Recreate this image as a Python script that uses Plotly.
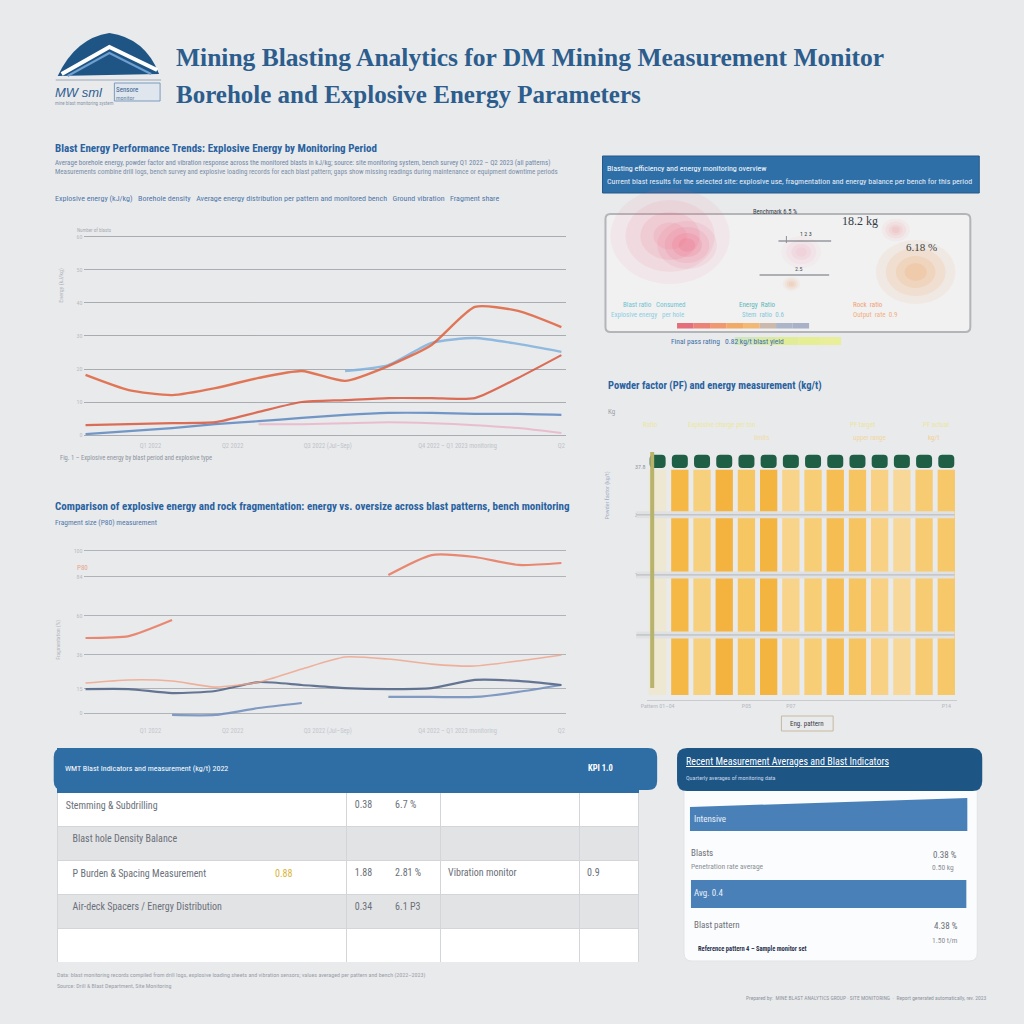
import plotly.graph_objects as go

W = H = 1024
def X(p): return p / W
def Y(p): return 1 - p / H

NARROW = "Liberation Sans Narrow, Arial Narrow, Roboto Condensed, Liberation Sans, sans-serif"
SANS = "Liberation Sans, Arial, sans-serif"
SERIF = "Liberation Serif, DejaVu Serif, serif"
BG = "#e9eaec"

# ---------------- data ----------------
periods = ["Jan", "Feb", "Mar", "Apr", "May", "Jun", "Jul", "Aug", "Sep", "Oct", "Nov", "Dec"]
period_ticks = ["Q1 2022", "Q2 2022", "Q3 2022 (Jul–Sep)", "Q4 2022 – Q1 2023 monitoring", "Q2"]
period_tick_pos = [1.5, 3.4, 5.6, 8.6, 11.0]

energy_anfo = [18.2, 13.6, 12.1, 14.2, 17.3, 19.4, 16.4, 20.9, 27.3, 38.8, 37.6, 32.7]
energy_emulsion = [3.0, 3.3, 3.6, 3.9, 7.0, 10.0, 10.6, 11.2, 11.2, 11.2, 17.3, 24.2]
energy_booster = [0.3, 1.2, 2.1, 3.3, 4.2, 5.2, 6.1, 6.7, 6.7, 6.4, 6.4, 6.1]
energy_heavy = [None, None, None, None, None, None, 19.4, 21.2, 27.9, 29.4, 27.6, 25.2]
energy_other = [None, None, None, None, 3.3, 3.3, 3.6, 3.9, 3.6, 3.0, 2.1, 0.6]
energy_ticks = [0, 10, 20, 30, 40, 50, 60]

frag_oversize = [46.3, 47.5, 57.4, None, None, None, None, 85.2, 97.5, 96.3, 91.4, 92.6]
frag_p80 = [18.5, 20.4, 19.8, 16.0, 19.1, 27.2, 34.6, 33.3, 30.2, 29.0, 32.1, 35.8]
frag_energy = [14.8, 14.8, 12.3, 13.6, 19.1, 17.3, 15.4, 14.8, 15.4, 20.4, 19.8, 17.3]
frag_fines = [None, None, -1.2, -1.2, 3.1, 6.2, None, 9.9, 9.9, 9.9, 13.0, 17.3]
frag_ticks = [0, 15, 36, 60, 84, 100]

pf_patterns = ["P01", "P02", "P03", "P04", "P05", "P06", "P07",
               "P08", "P09", "P10", "P11", "P12", "P13", "P14"]
pf_body = [37.5, 37.5, 37.5, 37.5, 37.5, 37.5, 37.5, 37.5, 37.5, 37.5, 37.5, 37.5, 37.5, 37.5]
pf_cap_base = [37.8, 37.8, 37.8, 37.8, 37.8, 37.8, 37.8, 37.8, 37.8, 37.8, 37.8, 37.8, 37.8, 37.8]
pf_cap = [2.2, 2.2, 2.2, 2.2, 2.2, 2.2, 2.2, 2.2, 2.2, 2.2, 2.2, 2.2, 2.2, 2.2]
pf_colors = ["#eee8d3", "#f5b845", "#f6d07c", "#f4b33f", "#f6c663", "#f4b540", "#f8d48a",
             "#f7cd76", "#f5bd52", "#f6c460", "#f8d184", "#f8d898", "#f7cb72", "#f6c86a"]
pf_grid = [10, 20, 30]
pf_ticks = [10, 20, 30, 38]

table_title = "WMT Blast Indicators and measurement (kg/t) 2022"
table_kpi = "KPI 1.0"
table_col1 = ["Stemming & Subdrilling",
              "\u00a0\u00a0\u00a0Blast hole Density Balance",
              "\u00a0\u00a0\u00a0P Burden & Spacing Measurement",
              "\u00a0\u00a0\u00a0Air-deck Spacers / Energy Distribution",
              ""]
table_flag = "0.88"
table_col2 = ["0.38\u00a0\u00a0\u00a0\u00a0\u00a0\u00a0\u00a0\u00a0\u00a0\u00a06.7 %", "",
              "1.88\u00a0\u00a0\u00a0\u00a0\u00a0\u00a0\u00a0\u00a0\u00a0\u00a02.81 %",
              "0.34\u00a0\u00a0\u00a0\u00a0\u00a0\u00a0\u00a0\u00a0\u00a0\u00a06.1 P3", ""]
table_col3 = ["", "", "Vibration monitor", "", ""]
table_col4 = ["", "", "0.9", "", ""]
row_fills = ["#ffffff", "#e2e3e5", "#ffffff", "#e2e3e5", "#ffffff"]

summary_bars = ["Intensive", "Avg. 0.4"]
summary_rows = [("Blasts", "Penetration rate average", "0.38 %", "0.50 kg"),
                ("Blast pattern", "", "4.38 %", "1.50 t/m")]

# ---------------- figure ----------------
fig = go.Figure()
ann = []
shapes = []

def T(x, y, s, size=9, color="#333", family=NARROW, bold=False, xanchor="left",
      yanchor="middle", angle=0):
    if bold:
        s = "<b>" + s + "</b>"
    dx = -2 if xanchor == "left" else (2 if xanchor == "right" else 0)
    ann.append(dict(x=X(x + dx), y=Y(y), xref="paper", yref="paper", text=s, showarrow=False,
                    xanchor=xanchor, yanchor=yanchor, textangle=angle, borderpad=0,
                    font=dict(size=size, color=color, family=family)))

def rect(x0, y0, x1, y1, fill, line=None, lw=0, layer="below", opacity=1):
    shapes.append(dict(type="rect", xref="paper", yref="paper", x0=X(x0), x1=X(x1),
                       y0=Y(y1), y1=Y(y0), fillcolor=fill, opacity=opacity, layer=layer,
                       line=dict(color=line or fill, width=lw)))

def rrect(x0, y0, x1, y1, r, fill, line=None, lw=0, layer="below"):
    p = (f"M {X(x0+r)},{Y(y0)} L {X(x1-r)},{Y(y0)} Q {X(x1)},{Y(y0)} {X(x1)},{Y(y0+r)} "
         f"L {X(x1)},{Y(y1-r)} Q {X(x1)},{Y(y1)} {X(x1-r)},{Y(y1)} L {X(x0+r)},{Y(y1)} "
         f"Q {X(x0)},{Y(y1)} {X(x0)},{Y(y1-r)} L {X(x0)},{Y(y0+r)} Q {X(x0)},{Y(y0)} {X(x0+r)},{Y(y0)} Z")
    shapes.append(dict(type="path", xref="paper", yref="paper", path=p, fillcolor=fill,
                       layer=layer, line=dict(color=line or fill, width=lw)))

def path(pts, fill=None, line=None, lw=0, closed=True, layer="below", opacity=1):
    p = "M " + " L ".join(f"{X(a)},{Y(b)}" for a, b in pts) + (" Z" if closed else "")
    shapes.append(dict(type="path", xref="paper", yref="paper", path=p,
                       fillcolor=fill if fill else "rgba(0,0,0,0)", layer=layer, opacity=opacity,
                       line=dict(color=line or "rgba(0,0,0,0)", width=lw)))

def blob(cx, cy, r, color, strength=1.0):
    for k, op in [(1.0, 0.08), (0.75, 0.10), (0.5, 0.12), (0.28, 0.14)]:
        shapes.append(dict(type="circle", xref="paper", yref="paper", layer="below",
                           x0=X(cx - r * k), x1=X(cx + r * k), y0=Y(cy + r * k * 0.8),
                           y1=Y(cy - r * k * 0.8), fillcolor=color, opacity=op * strength,
                           line=dict(width=0)))

# ---------- logo & title ----------
p = (f"M {X(52)},{Y(76)} Q {X(70)},{Y(38)} {X(104)},{Y(33)} Q {X(140)},{Y(38)} {X(154)},{Y(74)} Z")
shapes.append(dict(type="path", xref="paper", yref="paper", path=p, fillcolor="#1f5585",
                   line=dict(width=0), layer="below"))
path([(56, 74), (104, 47), (152, 70)], line="#ffffff", lw=4, closed=False)
path([(62, 76), (104, 53), (146, 74)], line="#6fa0cf", lw=2, closed=False)
path([(50, 80), (156, 80)], line="#9aa8b8", lw=1, closed=False)
T(50, 92, "<i>MW sml</i>", 13, "#2f5f92", SANS)
rect(109, 83, 155, 101, "#dfe6ee", "#7d9bbd", 1)
T(112, 90, "Sensore", 7, "#35628f", NARROW)
T(112, 97, "monitor", 6, "#6a86a6", NARROW)
T(50, 103, "mine blast monitoring system", 5, "#8a98a8", NARROW)

T(172, 57, "<b>Mining Blasting Analytics for DM Mining Measurement Monitor</b>", 25.5, "#2c5d8d", SERIF)
T(172, 94, "<b>Borehole and Explosive Energy Parameters</b>", 25, "#2c5d8d", SERIF)

# ---------- top-left chart ----------
T(50, 148, "Blast Energy Performance Trends: Explosive Energy by Monitoring Period", 11, "#2a62a0", NARROW, True)
T(50, 163, "Average borehole energy, powder factor and vibration response across the monitored blasts in kJ/kg; source: site monitoring system, bench survey Q1 2022 – Q2 2023 (all patterns)", 7, "#6f88a8")
T(50, 172, "Measurements combine drill logs, bench survey and explosive loading records for each blast pattern; gaps show missing readings during maintenance or equipment downtime periods", 7, "#7b8fa8")
T(50, 198, "Explosive energy (kJ/kg)   Borehole density   Average energy distribution per pattern and monitored bench   Ground vibration   Fragment share", 8, "#4f78aa")
T(72, 230, "Number of blasts", 5, "#a8adb3")
T(55, 285, "Energy (kJ/kg)", 6, "#b0b5bb", angle=-90, xanchor="center")
T(55, 458, "Fig. 1 – Explosive energy by blast period and explosive type", 6.5, "#8e959d")

line_style = dict(shape="spline", smoothing=0.6)
for ys, col, w, op in [(energy_other, "#eab3c6", 2, 0.8), (energy_booster, "#5d88c0", 2.2, 0.85),
                       (energy_emulsion, "#d9583e", 2.2, 0.85), (energy_heavy, "#80b1dc", 2.4, 0.85),
                       (energy_anfo, "#e0623e", 2.4, 0.85)]:
    fig.add_trace(go.Scatter(x=list(range(12)), y=ys, mode="lines", opacity=op,
                             line=dict(color=col, width=w, **line_style),
                             xaxis="x", yaxis="y", showlegend=False, hoverinfo="skip"))

# ---------- bottom-left chart ----------
T(50, 506, "Comparison of explosive energy and rock fragmentation: energy vs. oversize across blast patterns, bench monitoring", 11, "#2a62a0", NARROW, True)
T(50, 522, "Fragment size (P80) measurement", 7.5, "#4f78aa")
T(72, 568, "P80", 7, "#e8a58e")
T(52, 640, "Fragmentation (%)", 5.5, "#b0b5bb", angle=-90, xanchor="center")

for ys, col, w, op in [(frag_fines, "#6f8dbb", 2.2, 0.85), (frag_energy, "#56698a", 2.2, 0.9),
                       (frag_p80, "#f0a287", 1.6, 0.8), (frag_oversize, "#e87054", 2.2, 0.8)]:
    fig.add_trace(go.Scatter(x=list(range(12)), y=ys, mode="lines", opacity=op,
                             line=dict(color=col, width=w, **line_style), cliponaxis=False,
                             xaxis="x2", yaxis="y2", showlegend=False, hoverinfo="skip"))

# ---------- right-top panel ----------
rect(600, 156, 979, 193, "#2e6fa8", "#25598a", 1)
T(606, 168, "Blasting efficiency and energy monitoring overview", 8, "#ffffff")
T(606, 181, "Current blast results for the selected site: explosive use, fragmentation and energy balance per bench for this period", 8, "#e6eef7")
rrect(603, 214, 970, 332, 5, "#f1f1f2", "#b3b5b8", 2)
blob(668, 236, 60, "#ef6f86")
blob(685, 245, 30, "#ee5a78", 1.2)
blob(800, 252, 20, "#f2a0b8")
blob(895, 230, 14, "#f09090")
blob(915, 272, 40, "#f0a060", 1.3)
blob(790, 284, 9, "#f0a070")
T(752, 212, "Benchmark 6.5 %", 6.5, "#333b46")
T(842, 221, "18.2 kg", 12, "#333b46", SERIF)
T(906, 247, "6.18 %", 11, "#3a3f47", SERIF)
T(800, 233, "1 2 3", 6, "#333b46")
path([(777, 241), (830, 241)], line="#6a6f77", lw=1.2, closed=False)
path([(785, 236), (785, 243)], line="#8a8f97", lw=1, closed=False)
T(795, 268, "2.5", 6, "#4a4f57")
path([(758, 275), (828, 275)], line="#6a6f77", lw=1.2, closed=False)
T(622, 305, "Blast ratio   Consumed", 7, "#6fc3d0")
T(610, 315, "Explosive energy   per hole", 7, "#8fcfe0")
T(738, 305, "Energy  Ratio", 7, "#5eb7b8")
T(741, 315, "Stem  ratio  0.6", 7, "#84c8d8")
T(853, 305, "Rock  ratio", 7, "#f0a070")
T(853, 315, "Output  rate  0.9", 7, "#f2b080")
grad = ["#e2606e", "#ea7868", "#ef8e60", "#f2a258", "#f2b266", "#c6b2a6", "#a5aec4", "#a0aac2"]
for i, c in enumerate(grad):
    rect(675 + i * 16.6, 323, 675 + (i + 1) * 16.6, 328.5, c, opacity=0.9)
gg = ["#cfe6b8", "#d8ea9e", "#e0ec8e", "#e6ee8a", "#e8ee90"]
for i, c in enumerate(gg):
    rect(733 + i * 21.4, 337, 733 + (i + 1) * 21.4, 345, c, opacity=0.9)
T(670, 341, "Final pass rating   0.82 kg/t blast yield", 7.5, "#3d6ea5")

# ---------- bar chart ----------
T(607, 385, "Powder factor (PF) and energy measurement (kg/t)", 10.5, "#2a62a0", NARROW, True)
T(607, 412, "Kg", 7, "#9aa0a8")
T(642, 425, "Ratio", 7, "#ece7a0")
T(687, 425, "Explosive charge per ton", 7, "#ece7a0")
T(850, 425, "PF target", 7, "#ece4a0")
T(923, 425, "PF actual", 7, "#ece6a0")
T(753, 438, "limits", 7, "#f1dba6")
T(853, 438, "upper range", 7, "#f1d6a0")
T(928, 438, "kg/t", 7, "#f3cf98")
T(605, 495, "Powder factor (kg/t)", 6, "#9fb0c4", angle=-90, xanchor="center")
T(806, 724, "Eng. pattern", 7, "#3a3f47", xanchor="center")
rect(780, 716, 832, 731, "rgba(0,0,0,0)", "#c7b8a0", 1)

fig.add_trace(go.Bar(x=pf_patterns, y=pf_body, marker=dict(color=pf_colors, line=dict(width=0)),
                     width=0.78, xaxis="x3", yaxis="y3", showlegend=False, hoverinfo="skip"))
fig.add_trace(go.Bar(x=pf_patterns, y=pf_cap, base=pf_cap_base,
                     marker=dict(color="#1f5f46", line=dict(width=0), cornerradius=4),
                     width=0.72, xaxis="x3", yaxis="y3", showlegend=False, hoverinfo="skip"))
for g in pf_grid:
    shapes.append(dict(type="line", xref="paper", yref="y3", x0=X(634), x1=X(954), y0=g, y1=g,
                       layer="above", line=dict(color="#e0e1e2", width=7)))
    shapes.append(dict(type="line", xref="paper", yref="y3", x0=X(634), x1=X(954), y0=g, y1=g,
                       layer="above", line=dict(color="#b3b6ba", width=1)))
path([(650, 452), (650, 688)], line="#b8b36a", lw=4, closed=False, layer="above")

# ---------- table ----------
rrect(48, 748, 655, 790, 9, "#2f6ea5")
fig.add_trace(go.Table(
    domain=dict(x=[X(52), X(637)], y=[Y(962), Y(748)]),
    columnwidth=[291, 94, 140, 60],
    header=dict(values=["", "", "", ""], fill_color="#2f6ea5", line=dict(color="#2f6ea5", width=1),
                font=dict(color="#ffffff", size=8, family=NARROW), height=44),
    cells=dict(values=[table_col1, table_col2, table_col3, table_col4],
               fill_color=[row_fills] * 4, line=dict(color="#d3d5d8", width=1),
               font=dict(color="#6b7079", size=10, family=NARROW), align="left", height=34)))
T(60, 768, table_title, 8, "#ffffff")
T(586, 768, table_kpi, 8.5, "#ffffff", bold=True)
T(272, 873, table_flag, 10, "#d8b43a")

# ---------- right-bottom summary card ----------
rrect(682, 780, 977, 961, 8, "#fbfcfd", "#e1e3e6", 1)
rrect(675, 748, 982, 791, 10, "#1d5585")
T(685, 761, "<u>Recent Measurement Averages and Blast Indicators</u>", 10, "#ffffff", NARROW)
T(685, 777, "Quarterly averages of monitoring data", 6, "#c6d6e8")
path([(688, 807), (967, 798), (967, 831), (688, 831)], fill="#4a80b8")
rect(689, 880, 966, 908, "#4a80b8")
T(693, 819, summary_bars[0], 9, "#e8f0f8")
T(693, 893, summary_bars[1], 9, "#e8f0f8")
T(690, 853, summary_rows[0][0], 9, "#6c7078")
T(690, 866, summary_rows[0][1], 7.5, "#8a8f96")
T(956, 855, summary_rows[0][2], 9, "#6c7078", xanchor="right")
T(953, 867, summary_rows[0][3], 7.5, "#8a8f96", xanchor="right")
T(693, 925, summary_rows[1][0], 9, "#6c7078")
T(957, 926, summary_rows[1][2], 9, "#6c7078", xanchor="right")
T(957, 940, summary_rows[1][3], 7.5, "#8a8f96", xanchor="right")
T(697, 949, "Reference pattern 4 – Sample monitor set", 6.5, "#2a3450", NARROW, True)

# ---------- footers ----------
T(52, 975, "Data: blast monitoring records compiled from drill logs, explosive loading sheets and vibration sensors; values averaged per pattern and bench (2022–2023)", 6, "#9aa0a8")
T(52, 985, "Source: Drill & Blast Department, Site Monitoring", 6, "#9aa0a8")
T(745, 998, "Prepared by:  MINE BLAST ANALYTICS GROUP · SITE MONITORING  ·  Report generated automatically, rev. 2023", 5.5, "#8f959d")

axis_common = dict(showline=False, zeroline=False, ticks="", fixedrange=True)
fig.update_layout(
    width=W, height=H, margin=dict(l=0, r=0, t=0, b=0),
    paper_bgcolor=BG, plot_bgcolor="rgba(0,0,0,0)", barmode="overlay",
    showlegend=False, annotations=ann, shapes=shapes,
    xaxis=dict(domain=[X(78), X(563)], range=[-0.046, 11.1], tickvals=period_tick_pos,
               ticktext=period_ticks, tickfont=dict(size=6.5, color="#bfc3c8", family=NARROW),
               showgrid=False, anchor="y", **axis_common),
    yaxis=dict(domain=[Y(440), Y(230)], range=[-1.5, 62.1], tickvals=energy_ticks,
               tickfont=dict(size=6, color="#b9bdc2", family=NARROW), gridcolor="#a9acb0",
               gridwidth=1.3, anchor="x", **axis_common),
    xaxis2=dict(domain=[X(78), X(563)], range=[-0.046, 11.1], tickvals=period_tick_pos,
                ticktext=period_ticks, tickfont=dict(size=6.5, color="#c3c7cc", family=NARROW),
                showgrid=False, anchor="y2", **axis_common),
    yaxis2=dict(domain=[Y(725), Y(545)], range=[-7.4, 103.7], tickvals=frag_ticks,
                tickfont=dict(size=6, color="#b9bdc2", family=NARROW), gridcolor="#b0b3b7",
                gridwidth=1.2, anchor="x2", **axis_common),
    xaxis3=dict(domain=[X(644.3), X(957)], range=[-0.5, 13.5], showgrid=False,
                tickvals=["P01", "P05", "P07", "P14"], ticktext=["Pattern 01–04", "P05", "P07", "P14"],
                tickfont=dict(size=6, color="#b5b9be", family=NARROW), showline=True,
                linecolor="#c9cbcf", linewidth=1, zeroline=False, ticks="", anchor="y3",
                fixedrange=True),
    yaxis3=dict(domain=[Y(700), Y(450)], range=[-0.83, 40.8], tickvals=pf_ticks,
                ticktext=["9.7", "19.7", "30.0", "37.8"], showgrid=False,
                tickfont=dict(size=6, color="#8f959d", family=NARROW), anchor="x3",
                **axis_common),
)

fig.write_html("out.html", config={"displayModeBar": False},
               post_script="document.body.style.margin='0';document.body.style.background='" + BG + "';")
